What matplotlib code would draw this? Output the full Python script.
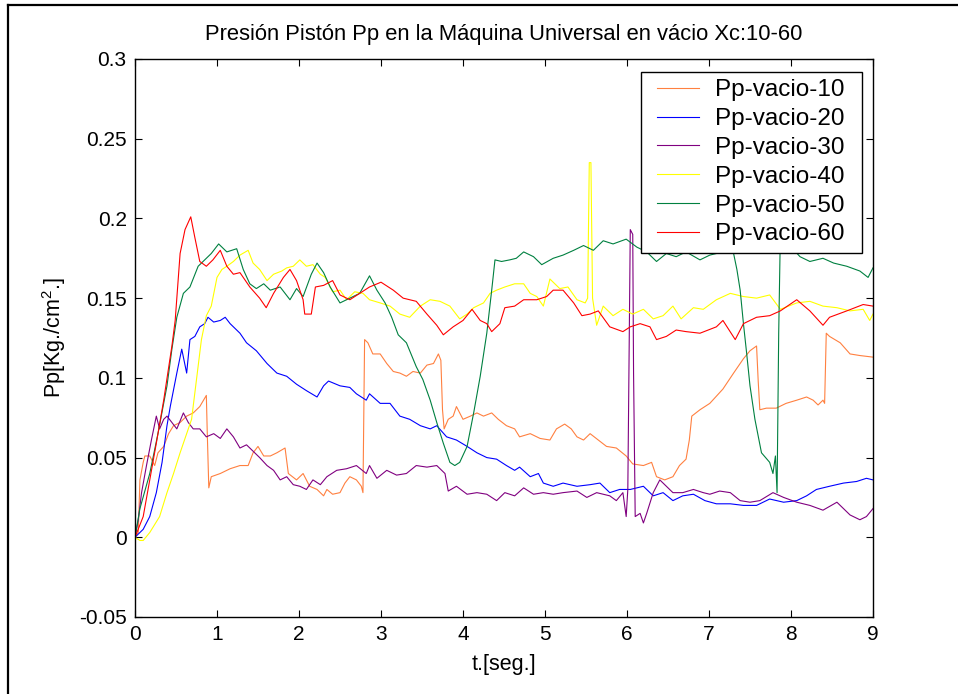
import matplotlib
matplotlib.use("Agg")
import matplotlib.pyplot as plt
from matplotlib.lines import Line2D
from matplotlib.legend_handler import HandlerLine2D
from matplotlib.ticker import FormatStrFormatter

plt.rcParams['font.family'] = ['Liberation Sans', 'DejaVu Sans']
plt.rcParams['mathtext.fontset'] = 'custom'
plt.rcParams['mathtext.rm'] = 'Liberation Sans'

# Pp-vacio-10
t10 = [0, 0.04, 0.06, 0.10, 0.12, 0.18, 0.24, 0.28, 0.35, 0.41,
       0.47, 0.55, 0.63, 0.71, 0.79, 0.87, 0.88, 0.90, 0.93, 1.04,
       1.16, 1.28, 1.38, 1.44, 1.50, 1.57, 1.65, 1.73, 1.83, 1.87,
       1.97, 2.05, 2.13, 2.22, 2.30, 2.34, 2.41, 2.50, 2.56, 2.62,
       2.70, 2.76, 2.78, 2.80, 2.84, 2.90, 2.99, 3.07, 3.15, 3.23,
       3.31, 3.39, 3.48, 3.56, 3.64, 3.70, 3.73, 3.75, 3.77, 3.82,
       3.88, 3.92, 4.00, 4.09, 4.17, 4.25, 4.35, 4.43, 4.53, 4.63,
       4.69, 4.82, 4.94, 5.06, 5.14, 5.24, 5.32, 5.39, 5.47, 5.55,
       5.65, 5.75, 5.87, 5.99, 6.07, 6.20, 6.30, 6.36, 6.46, 6.56,
       6.64, 6.72, 6.76, 6.79, 6.89, 7.01, 7.17, 7.30, 7.42, 7.50,
       7.58, 7.60, 7.62, 7.70, 7.82, 7.94, 8.07, 8.19, 8.27, 8.33,
       8.39, 8.41, 8.43, 8.47, 8.60, 8.72, 8.84, 9.00]
p10 = [0, 0.003, 0.036, 0.047, 0.051, 0.051, 0.045, 0.053, 0.057, 0.065,
       0.070, 0.072, 0.076, 0.078, 0.082, 0.089, 0.068, 0.031, 0.038, 0.040,
       0.043, 0.045, 0.045, 0.053, 0.057, 0.051, 0.051, 0.053, 0.056, 0.040,
       0.036, 0.040, 0.032, 0.030, 0.026, 0.030, 0.027, 0.028, 0.034, 0.038,
       0.036, 0.032, 0.028, 0.124, 0.122, 0.115, 0.115, 0.109, 0.104, 0.103,
       0.101, 0.104, 0.103, 0.108, 0.109, 0.115, 0.111, 0.080, 0.068, 0.074,
       0.076, 0.082, 0.074, 0.076, 0.078, 0.076, 0.078, 0.074, 0.070, 0.068,
       0.063, 0.065, 0.062, 0.061, 0.068, 0.071, 0.068, 0.063, 0.061, 0.065,
       0.061, 0.057, 0.056, 0.051, 0.046, 0.045, 0.047, 0.038, 0.036, 0.038,
       0.045, 0.049, 0.061, 0.076, 0.080, 0.084, 0.093, 0.103, 0.112, 0.117,
       0.120, 0.098, 0.080, 0.081, 0.081, 0.084, 0.086, 0.088, 0.086, 0.083,
       0.086, 0.084, 0.128, 0.126, 0.122, 0.115, 0.114, 0.113]

# Pp-vacio-20
t20 = [0, 0.10, 0.18, 0.26, 0.33, 0.39, 0.43, 0.51, 0.57, 0.63,
       0.67, 0.73, 0.79, 0.85, 0.89, 0.96, 1.04, 1.10, 1.16, 1.28,
       1.36, 1.48, 1.61, 1.73, 1.85, 1.97, 2.09, 2.22, 2.30, 2.36,
       2.50, 2.62, 2.70, 2.82, 2.86, 2.99, 3.11, 3.23, 3.35, 3.48,
       3.60, 3.68, 3.80, 3.92, 4.05, 4.17, 4.29, 4.41, 4.53, 4.63,
       4.69, 4.82, 4.92, 4.98, 5.10, 5.22, 5.39, 5.55, 5.67, 5.79,
       5.91, 6.04, 6.20, 6.32, 6.44, 6.56, 6.68, 6.81, 6.95, 7.09,
       7.26, 7.42, 7.58, 7.74, 7.91, 8.07, 8.19, 8.31, 8.47, 8.64,
       8.80, 8.92, 9.00]
p20 = [0, 0.005, 0.013, 0.028, 0.047, 0.070, 0.082, 0.103, 0.118, 0.103,
       0.124, 0.126, 0.132, 0.134, 0.138, 0.135, 0.136, 0.138, 0.134, 0.128,
       0.122, 0.117, 0.109, 0.103, 0.101, 0.096, 0.092, 0.088, 0.095, 0.098,
       0.095, 0.094, 0.090, 0.086, 0.090, 0.084, 0.084, 0.076, 0.074, 0.070,
       0.068, 0.070, 0.063, 0.061, 0.057, 0.053, 0.050, 0.049, 0.045, 0.042,
       0.044, 0.038, 0.040, 0.034, 0.032, 0.034, 0.032, 0.033, 0.034, 0.028,
       0.030, 0.030, 0.032, 0.026, 0.028, 0.023, 0.026, 0.027, 0.023, 0.021,
       0.021, 0.020, 0.020, 0.024, 0.022, 0.023, 0.026, 0.030, 0.032, 0.034,
       0.035, 0.037, 0.036]

# Pp-vacio-30
t30 = [0, 0.04, 0.08, 0.14, 0.20, 0.26, 0.30, 0.35, 0.39, 0.45,
       0.51, 0.59, 0.65, 0.71, 0.79, 0.87, 0.96, 1.04, 1.12, 1.20,
       1.28, 1.36, 1.44, 1.52, 1.61, 1.69, 1.77, 1.85, 1.93, 2.01,
       2.09, 2.17, 2.26, 2.34, 2.46, 2.58, 2.70, 2.82, 2.86, 2.95,
       3.07, 3.19, 3.31, 3.43, 3.56, 3.68, 3.78, 3.82, 3.92, 4.05,
       4.17, 4.29, 4.41, 4.51, 4.63, 4.74, 4.86, 4.98, 5.10, 5.22,
       5.39, 5.51, 5.63, 5.79, 5.87, 5.95, 5.99, 6.01, 6.04, 6.07,
       6.08, 6.10, 6.16, 6.20, 6.24, 6.32, 6.40, 6.48, 6.56, 6.68,
       6.81, 6.93, 7.01, 7.13, 7.26, 7.38, 7.50, 7.62, 7.78, 7.91,
       8.07, 8.23, 8.39, 8.56, 8.72, 8.84, 8.92, 9.00]
p30 = [0, 0.011, 0.028, 0.045, 0.061, 0.076, 0.068, 0.074, 0.076, 0.072,
       0.068, 0.078, 0.072, 0.068, 0.068, 0.063, 0.065, 0.062, 0.068, 0.063,
       0.056, 0.058, 0.054, 0.050, 0.045, 0.042, 0.036, 0.038, 0.033, 0.032,
       0.030, 0.036, 0.033, 0.038, 0.042, 0.043, 0.045, 0.040, 0.045, 0.037,
       0.042, 0.039, 0.040, 0.045, 0.044, 0.045, 0.040, 0.029, 0.032, 0.027,
       0.028, 0.027, 0.023, 0.028, 0.026, 0.031, 0.027, 0.028, 0.027, 0.028,
       0.029, 0.025, 0.028, 0.026, 0.023, 0.028, 0.013, 0.030, 0.193, 0.190,
       0.103, 0.013, 0.015, 0.009, 0.015, 0.028, 0.036, 0.032, 0.028, 0.028,
       0.030, 0.028, 0.027, 0.029, 0.028, 0.023, 0.022, 0.023, 0.028, 0.025,
       0.022, 0.020, 0.017, 0.022, 0.014, 0.011, 0.013, 0.018]

# Pp-vacio-40
t40 = [0, 0.06, 0.10, 0.18, 0.30, 0.39, 0.47, 0.55, 0.63, 0.69,
       0.75, 0.81, 0.87, 0.93, 1.00, 1.06, 1.12, 1.20, 1.28, 1.38,
       1.44, 1.52, 1.61, 1.69, 1.79, 1.85, 1.93, 2.01, 2.09, 2.17,
       2.26, 2.32, 2.41, 2.50, 2.58, 2.68, 2.78, 2.86, 2.99, 3.11,
       3.23, 3.35, 3.48, 3.60, 3.72, 3.84, 3.96, 4.05, 4.13, 4.25,
       4.33, 4.41, 4.51, 4.63, 4.74, 4.82, 4.90, 4.98, 5.06, 5.18,
       5.28, 5.39, 5.49, 5.52, 5.54, 5.56, 5.58, 5.63, 5.71, 5.83,
       5.95, 6.07, 6.20, 6.32, 6.44, 6.56, 6.66, 6.81, 6.93, 7.09,
       7.26, 7.42, 7.58, 7.74, 7.87, 8.07, 8.23, 8.39, 8.56, 8.72,
       8.88, 8.96, 9.00]
p40 = [0, -0.002, -0.002, 0.003, 0.013, 0.028, 0.040, 0.053, 0.065, 0.074,
       0.099, 0.124, 0.139, 0.145, 0.163, 0.168, 0.170, 0.173, 0.177, 0.180,
       0.172, 0.168, 0.161, 0.165, 0.167, 0.169, 0.170, 0.174, 0.170, 0.171,
       0.165, 0.163, 0.154, 0.155, 0.149, 0.154, 0.153, 0.149, 0.147, 0.145,
       0.140, 0.138, 0.145, 0.149, 0.148, 0.145, 0.137, 0.140, 0.144, 0.147,
       0.153, 0.155, 0.157, 0.159, 0.159, 0.153, 0.151, 0.145, 0.162, 0.156,
       0.157, 0.149, 0.147, 0.150, 0.235, 0.235, 0.150, 0.133, 0.145, 0.139,
       0.143, 0.140, 0.143, 0.137, 0.139, 0.145, 0.137, 0.144, 0.143, 0.149,
       0.153, 0.151, 0.150, 0.152, 0.143, 0.147, 0.148, 0.145, 0.144, 0.142,
       0.143, 0.136, 0.140]

# Pp-vacio-50
t50 = [0, 0.06, 0.18, 0.28, 0.39, 0.45, 0.51, 0.59, 0.67, 0.77,
       0.85, 0.93, 1.02, 1.12, 1.24, 1.32, 1.40, 1.48, 1.57, 1.65,
       1.77, 1.89, 1.97, 2.05, 2.15, 2.22, 2.30, 2.38, 2.50, 2.62,
       2.74, 2.86, 2.95, 3.05, 3.13, 3.21, 3.31, 3.43, 3.51, 3.60,
       3.68, 3.76, 3.84, 3.90, 3.96, 4.05, 4.13, 4.21, 4.29, 4.35,
       4.39, 4.47, 4.57, 4.65, 4.74, 4.86, 4.96, 5.10, 5.22, 5.35,
       5.47, 5.59, 5.71, 5.83, 5.99, 6.12, 6.24, 6.36, 6.48, 6.60,
       6.72, 6.89, 7.01, 7.17, 7.30, 7.34, 7.38, 7.42, 7.46, 7.50,
       7.56, 7.64, 7.74, 7.78, 7.81, 7.83, 7.85, 7.87, 7.95, 8.11,
       8.23, 8.39, 8.52, 8.68, 8.84, 8.94, 9.00]
p50 = [0, 0.018, 0.040, 0.065, 0.095, 0.118, 0.138, 0.153, 0.157, 0.170,
       0.174, 0.178, 0.184, 0.179, 0.181, 0.168, 0.159, 0.156, 0.159, 0.155,
       0.157, 0.149, 0.156, 0.151, 0.165, 0.172, 0.166, 0.157, 0.147, 0.150,
       0.153, 0.164, 0.155, 0.147, 0.138, 0.127, 0.122, 0.107, 0.099, 0.086,
       0.072, 0.059, 0.047, 0.045, 0.047, 0.057, 0.078, 0.101, 0.128, 0.155,
       0.174, 0.173, 0.174, 0.175, 0.179, 0.176, 0.171, 0.175, 0.177, 0.180,
       0.183, 0.180, 0.186, 0.184, 0.187, 0.182, 0.179, 0.173, 0.178, 0.176,
       0.179, 0.174, 0.177, 0.179, 0.178, 0.168, 0.155, 0.134, 0.115, 0.095,
       0.074, 0.053, 0.047, 0.040, 0.051, 0.028, 0.128, 0.190, 0.185, 0.176,
       0.173, 0.175, 0.172, 0.170, 0.167, 0.163, 0.169]

# Pp-vacio-60
t60 = [0, 0.10, 0.26, 0.35, 0.45, 0.49, 0.55, 0.61, 0.68, 0.73,
       0.79, 0.87, 0.95, 1.04, 1.12, 1.20, 1.28, 1.40, 1.52, 1.60,
       1.69, 1.81, 1.89, 1.97, 2.05, 2.07, 2.15, 2.20, 2.30, 2.41,
       2.50, 2.62, 2.74, 2.86, 3.00, 3.15, 3.27, 3.43, 3.56, 3.68,
       3.76, 3.88, 4.00, 4.11, 4.21, 4.29, 4.35, 4.45, 4.51, 4.63,
       4.74, 4.90, 5.02, 5.10, 5.22, 5.35, 5.45, 5.55, 5.65, 5.79,
       5.95, 6.04, 6.16, 6.28, 6.36, 6.48, 6.60, 6.72, 6.89, 7.09,
       7.17, 7.32, 7.42, 7.58, 7.74, 7.87, 8.07, 8.23, 8.39, 8.47,
       8.68, 8.88, 9.00]
p60 = [0, 0.013, 0.059, 0.086, 0.120, 0.136, 0.178, 0.193, 0.201, 0.188,
       0.173, 0.170, 0.174, 0.180, 0.170, 0.165, 0.166, 0.157, 0.150, 0.144,
       0.153, 0.163, 0.168, 0.161, 0.149, 0.140, 0.140, 0.157, 0.158, 0.161,
       0.152, 0.149, 0.153, 0.157, 0.160, 0.155, 0.150, 0.148, 0.140, 0.133,
       0.127, 0.132, 0.136, 0.143, 0.136, 0.134, 0.129, 0.134, 0.144, 0.145,
       0.149, 0.149, 0.151, 0.155, 0.155, 0.147, 0.139, 0.140, 0.142, 0.132,
       0.129, 0.132, 0.134, 0.132, 0.124, 0.126, 0.130, 0.129, 0.128, 0.132,
       0.136, 0.124, 0.134, 0.138, 0.139, 0.142, 0.149, 0.142, 0.133, 0.138,
       0.142, 0.146, 0.145]

labels = ['Pp-vacio-10', 'Pp-vacio-20', 'Pp-vacio-30',
          'Pp-vacio-40', 'Pp-vacio-50', 'Pp-vacio-60']
colors = ['#ff8040', '#0000ff', '#800080', '#ffff00', '#008040', '#ff0000']
series = [(t10, p10), (t20, p20), (t30, p30), (t40, p40), (t50, p50), (t60, p60)]

fig = plt.figure(figsize=(9.58, 6.94), dpi=100)
ax = fig.add_axes([135 / 958, 77 / 694, 738 / 958, 558 / 694])

lines = []
for (t, p), lab, col in zip(series, labels, colors):
    ln, = ax.plot(t, p, color=col, linewidth=0.8, label=lab)
    lines.append(ln)

ax.set_xlim(0, 9)
ax.set_ylim(-0.05, 0.3)
ax.set_xticks(range(0, 10))
ax.set_yticks([-0.05, 0, 0.05, 0.1, 0.15, 0.2, 0.25, 0.3])
ax.yaxis.set_major_formatter(FormatStrFormatter('%g'))
ax.tick_params(direction='in', length=5, width=0.8, top=True, right=True,
               labelsize=15, pad=6)
for s in ax.spines.values():
    s.set_linewidth(1.0)

ax.set_title('Presión Pistón Pp en la Máquina Universal en vácio Xc:10-60',
             fontsize=15.8, pad=14)
ax.set_xlabel('t.[seg.]', fontsize=15.5, labelpad=7)
ax.set_ylabel('Pp[Kg./cm$^2$.]', fontsize=15.5, labelpad=8)

# legend box: left 641px, top 72px, width 221px (MATLAB style, extra room on the right)
leg_x0 = (641 - 135) / 738
leg_top = (617 - 72) / 558
leg_w = 221 / 738
leg = ax.legend(handles=lines, loc='upper left',
                bbox_to_anchor=(leg_x0, leg_top, leg_w, 0),
                mode='expand', borderaxespad=0, fontsize=17.5, frameon=True,
                fancybox=False, edgecolor='black', framealpha=1,
                handlelength=2.1, handletextpad=0.65, labelspacing=0.28,
                borderpad=0.3,
                handler_map={ln: HandlerLine2D(xpad=0.37) for ln in lines})
leg.get_frame().set_linewidth(1.0)

# border of the exported figure (top and left edges only)
fig.add_artist(Line2D([8 / 958, 1], [1 - 5 / 694, 1 - 5 / 694], color='black', linewidth=1.6))
fig.add_artist(Line2D([8 / 958, 8 / 958], [0, 1 - 5 / 694], color='black', linewidth=1.6))

fig.savefig('out.png', dpi=100)
